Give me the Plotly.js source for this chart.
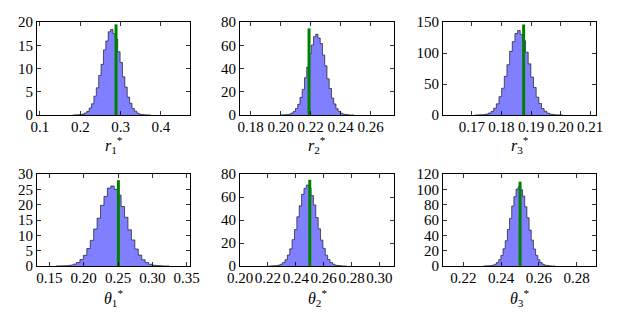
<!DOCTYPE html>
<html>
<head>
<meta charset="utf-8">
<script src="https://cdn.plot.ly/plotly-3.0.1.min.js"></script>
<style>html,body{margin:0;padding:0;background:#fff;}#chart{width:624px;height:320px;}</style>
</head>
<body>
<div id="chart"></div>
<script>
// ---- data ----
const panelLabels = ['<i>r</i><sub>1</sub><sup>*</sup>', '<i>r</i><sub>2</sub><sup>*</sup>', '<i>r</i><sub>3</sub><sup>*</sup>',
                     '<i>θ</i><sub>1</sub><sup>*</sup>', '<i>θ</i><sub>2</sub><sup>*</sup>', '<i>θ</i><sub>3</sub><sup>*</sup>'];
// histogram bins: left edge of first bin and bin width
const binLeft  = [0.18065, 0.19935, 0.17105, 0.1595, 0.22035, 0.230625];
const binWidth = [0.0059, 0.0015, 0.0009, 0.0050, 0.0017, 0.00115];
// densities per bin
const r1Density = [0.005, 0.02, 0.04, 0.10, 0.19, 0.43, 0.78, 1.50, 2.41, 4.05, 5.85, 8.52, 10.9, 14.0, 15.9, 17.9, 18.4, 17.5, 16.3, 13.6, 11.3, 8.2, 6.0, 3.85, 2.52, 1.42, 0.83, 0.40, 0.21, 0.09, 0.04, 0.015, 0.006];
const r2Density = [0.02, 0.07, 0.14, 0.37, 0.74, 1.62, 2.95, 5.61, 9.2, 15.2, 22.0, 32.1, 41.3, 52.6, 60.2, 67.4, 69.5, 66.2, 61.4, 51.6, 42.3, 31.1, 22.8, 14.6, 9.5, 5.38, 3.09, 1.53, 0.79, 0.34, 0.16, 0.06, 0.02];
const r3Density = [0.04, 0.13, 0.29, 0.71, 1.46, 3.15, 5.82, 10.9, 18.0, 29.6, 43.2, 62.4, 81.1, 102.7, 118.3, 131.5, 136.2, 129.9, 119.8, 101.2, 82.5, 61.2, 44.3, 28.8, 18.5, 10.5, 6.0, 3.02, 1.53, 0.68, 0.31, 0.12, 0.04];
const th1Density = [0.008, 0.02, 0.06, 0.13, 0.28, 0.61, 1.12, 2.10, 3.48, 5.70, 8.35, 12.05, 15.6, 19.8, 22.7, 25.4, 26.1, 25.0, 23.1, 19.4, 15.9, 11.8, 8.5, 5.55, 3.55, 2.04, 1.16, 0.58, 0.30, 0.13, 0.056, 0.023, 0.008];
const th2Density = [0.02, 0.06, 0.15, 0.35, 0.80, 1.58, 3.10, 5.50, 9.6, 14.9, 22.9, 31.7, 42.8, 52.4, 62.3, 67.5, 70.4, 68.1, 61.2, 53.1, 42.1, 32.3, 22.5, 15.3, 9.4, 5.6, 3.05, 1.62, 0.77, 0.37, 0.15, 0.06, 0.02];
const th3Density = [0.03, 0.09, 0.22, 0.54, 1.12, 2.38, 4.48, 8.3, 13.7, 22.5, 33.0, 47.6, 62.1, 78.2, 90.4, 100.3, 103.4, 99.5, 91.3, 77.2, 62.9, 46.8, 33.7, 22.1, 14.0, 8.1, 4.55, 2.33, 1.15, 0.52, 0.23, 0.09, 0.03];
const densities = [r1Density, r2Density, r3Density, th1Density, th2Density, th3Density];
// true values (green markers) and their drawn heights
const trueValues  = [0.2886, 0.2189, 0.1875, 0.2505, 0.2500, 0.2500];
const trueHeights = [19.5, 74.5, 146, 28, 75, 110];
// axis ranges and ticks
const xRanges = [[0.0926, 0.472], [0.1729, 0.2755], [0.1602, 0.2120], [0.132, 0.3548], [0.2000, 0.3104], [0.2092, 0.2902]];
const yRanges = [[0, 20], [0, 80], [0, 150], [0, 30], [0, 80], [0, 120]];
const xTicks = [[0.1, 0.2, 0.3, 0.4], [0.18, 0.20, 0.22, 0.24, 0.26], [0.17, 0.18, 0.19, 0.20, 0.21],
                [0.15, 0.20, 0.25, 0.30, 0.35], [0.20, 0.22, 0.24, 0.26, 0.28, 0.30], [0.22, 0.24, 0.26, 0.28]];
const xTickFormats = ['.1f', '.2f', '.2f', '.2f', '.2f', '.2f'];
const yTicks = [[0, 5, 10, 15, 20], [0, 20, 40, 60, 80], [0, 50, 100, 150], [0, 5, 10, 15, 20, 25, 30], [0, 20, 40, 60, 80], [0, 20, 40, 60, 80, 100, 120]];

// ---- layout geometry (pixels in 624x320 canvas) ----
const W = 624, H = 320;
const colPx = [[37, 190], [240, 394], [443, 596]];
const rowPx = [[22, 115], [174, 266]];
const titleYPx = [145, 298];
const FONT = 'Liberation Serif';

const traces = [];
const annotations = [];
const layout = {
  width: W, height: H,
  margin: {l: 0, r: 0, t: 0, b: 0},
  paper_bgcolor: '#fff', plot_bgcolor: '#fff',
  showlegend: false,
  font: {family: FONT, size: 15, color: '#000'}
};

for (let p = 0; p < 6; p++) {
  const n = p + 1;
  const xa = n === 1 ? 'x' : 'x' + n;
  const ya = n === 1 ? 'y' : 'y' + n;
  const vals = densities[p];
  const xs = [binLeft[p]], ys = [0];
  for (let i = 0; i < vals.length; i++) {
    xs.push(binLeft[p] + i * binWidth[p], binLeft[p] + (i + 1) * binWidth[p]);
    ys.push(vals[i], vals[i]);
  }
  xs.push(binLeft[p] + vals.length * binWidth[p]); ys.push(0);
  traces.push({
    type: 'scatter', mode: 'lines', x: xs, y: ys, xaxis: xa, yaxis: ya,
    fill: 'toself', fillcolor: 'rgba(0,0,255,0.5)',
    line: {color: 'rgba(0,0,0,0.6)', width: 1}, hoverinfo: 'skip'
  });
  traces.push({
    type: 'scatter', mode: 'lines', x: [trueValues[p], trueValues[p]], y: [0, trueHeights[p]],
    xaxis: xa, yaxis: ya, line: {color: '#008000', width: 3}, hoverinfo: 'skip'
  });
  const c = colPx[p % 3], r = rowPx[Math.floor(p / 3)];
  const axCommon = {
    showline: true, linecolor: '#000', linewidth: 1, mirror: 'ticks',
    ticks: 'inside', ticklen: 4, tickwidth: 0.8, tickcolor: '#000',
    showgrid: false, zeroline: false,
    tickfont: {family: FONT, size: 15, color: '#000'}
  };
  layout['xaxis' + (n === 1 ? '' : n)] = Object.assign({}, axCommon, {
    domain: [c[0] / W, c[1] / W], range: xRanges[p], anchor: ya,
    tickmode: 'array', tickvals: xTicks[p], tickformat: xTickFormats[p],
    tickangle: 0, ticklabelstandoff: -2
  });
  layout['yaxis' + (n === 1 ? '' : n)] = Object.assign({}, axCommon, {
    domain: [1 - r[1] / H, 1 - r[0] / H], range: yRanges[p], anchor: xa,
    tickmode: 'array', tickvals: yTicks[p]
  });
  annotations.push({
    xref: 'paper', yref: 'paper', x: (c[0] + c[1]) / 2 / W, y: 1 - titleYPx[Math.floor(p / 3)] / H,
    xanchor: 'center', yanchor: 'middle', showarrow: false,
    text: panelLabels[p], font: {family: FONT, size: 16, color: '#000'}
  });
}
layout.annotations = annotations;

Plotly.newPlot('chart', traces, layout, {displayModeBar: false, staticPlot: true});
</script>
</body>
</html>
